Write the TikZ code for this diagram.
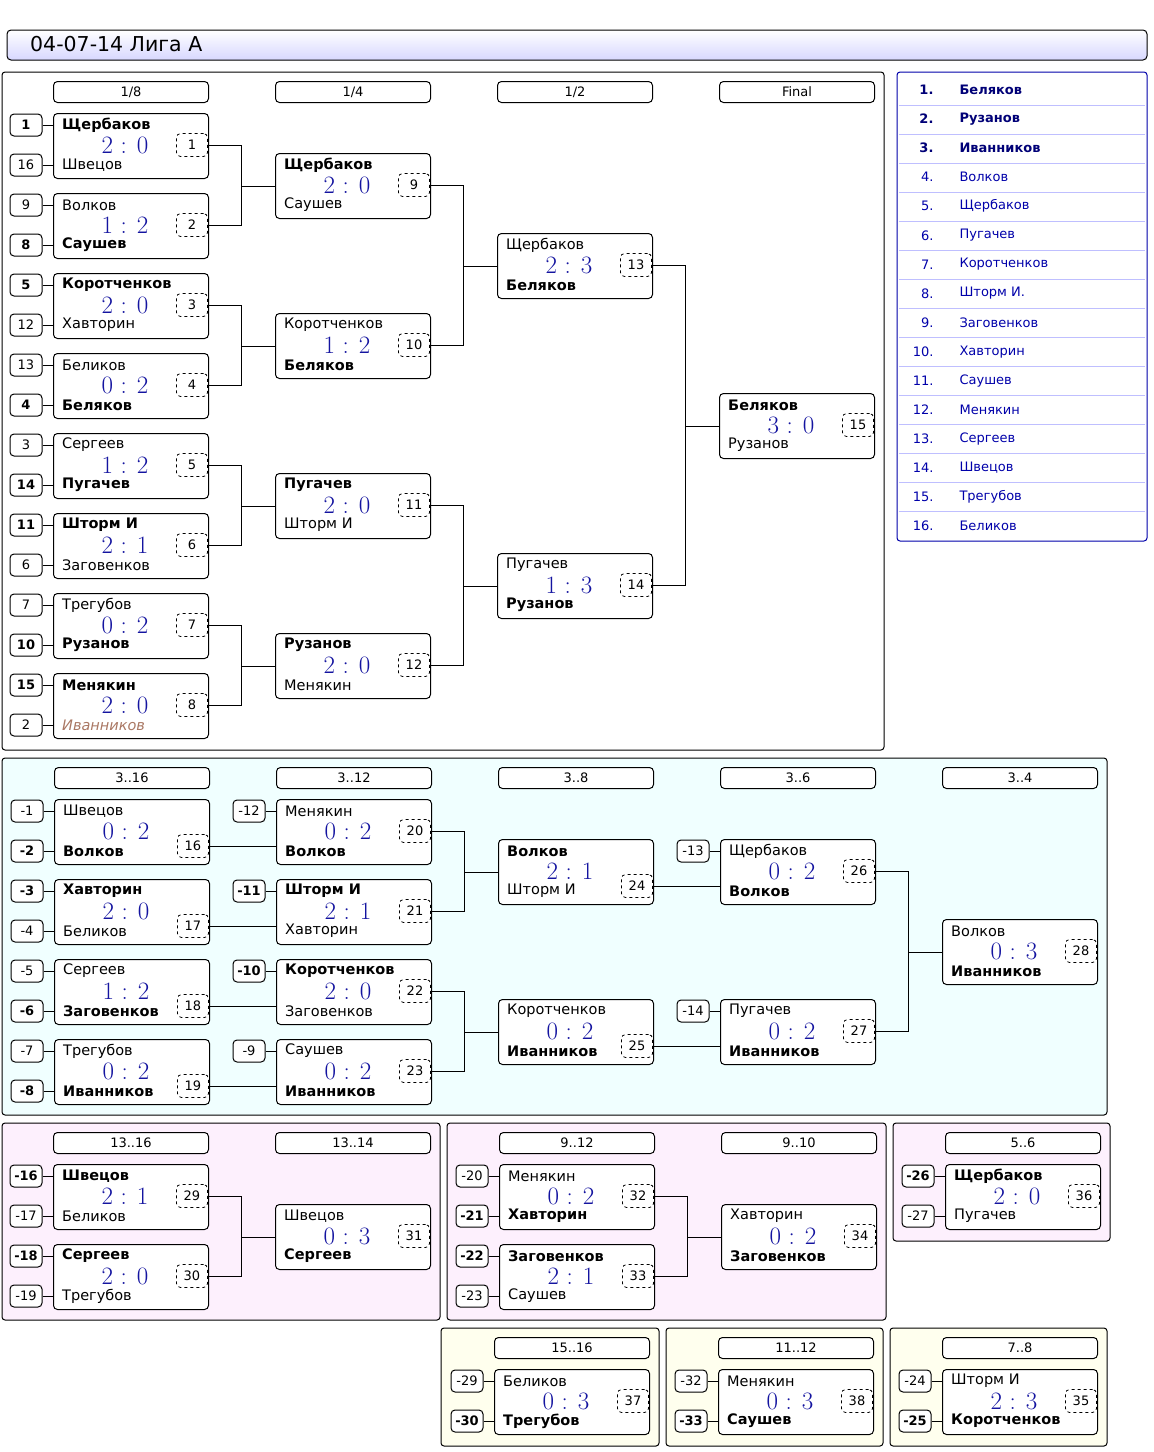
\documentclass[tikz,border=0pt]{standalone}
\usepackage{fontspec}
\setmainfont{DejaVu Sans}
\newfontfamily\scorefont{Latin Modern Roman}
\usetikzlibrary{positioning,calc}
\definecolor{scoreblue}{RGB}{20,20,160}
\definecolor{tabblue}{RGB}{0,0,170}
\definecolor{losercyan}{RGB}{240,255,255}
\definecolor{lowpink}{RGB}{253,240,253}
\definecolor{lowyellow}{RGB}{255,255,238}
\definecolor{lavender}{RGB}{215,215,255}
\definecolor{absent}{RGB}{170,120,100}
\newcommand\names{\fontsize{14.5}{16}\selectfont}
\newcommand\labels{\fontsize{13}{15}\selectfont}
\tikzset{
  game/.style={draw,line width=1pt,rounded corners=4pt,fill=white,minimum width=155pt,
    minimum height=65pt,anchor=north west,inner sep=0pt},
  player/.style={anchor=west,inner sep=0pt,font=\names},
  score/.style={inner sep=0pt,text=scoreblue,font=\scorefont\fontsize{25}{25}\selectfont},
  num/.style={draw,dashed,line width=0.8pt,rounded corners=4pt,minimum width=31pt,
    minimum height=23pt,inner sep=0pt,font=\labels,fill=white},
  seed/.style={draw,line width=1pt,rounded corners=4pt,minimum width=32pt,
    minimum height=22pt,inner sep=0pt,font=\labels,fill=white},
  head/.style={draw,line width=1pt,rounded corners=4pt,minimum width=155pt,
    minimum height=21pt,anchor=north west,inner sep=0pt,font=\labels,fill=white},
  link/.style={line width=1pt},
  panel/.style={draw,line width=1pt,rounded corners=3pt}
}
% #1 id, #2 x, #3 top, #4 upper player, #5 score, #6 lower player, #7 number, #8 dy of number
\newcommand\game[8]{%
  \node[game] (m#1) at (#2,#3) {};
  \node[player] (u#1) at (#2+9,#3+12) {#4};
  \node[score] (r#1) at (#2+72,#3+32) {#5};
  \node[player] (l#1) at (#2+9,#3+52) {#6};
  \node[num] (n#1) at (#2+139,#3+#8) {#7};
}
% #1 seed name, #2 match id, #3 dy, #4 text
\newcommand\seed[4]{%
  \node[seed] (#1) at ($(m#2.north west)+(-27,#3)$) {#4};
  \draw[link] (#1.east) -- (#1.east -| m#2.west);
}
% two winners into one match
\newcommand\join[3]{%
  \draw[link] (n#1.east) -- ++(34,0) |- (m#3.west);
  \draw[link] (n#2.east) -- ++(34,0) |- (m#3.west);
}
\newcommand\pass[2]{\draw[link] (n#1.east) -- (n#1.east -| m#2.west);}
\begin{document}
\begin{tikzpicture}[x=1pt,y=-1pt]
\useasboundingbox (0,0) rectangle (1154,1452);

% title
\shade[top color=white,bottom color=lavender,rounded corners=4pt] (7,30) rectangle (1147,60);
\draw[line width=1pt,rounded corners=4pt] (7,30) rectangle (1147,60);
\node[anchor=west,inner sep=0pt,font=\fontsize{20.5}{22}\selectfont] (title) at (30,44) {04-07-14 Лига A};

% panels
\draw[panel,fill=white] (2,72) rectangle (884,750);
\draw[panel,fill=losercyan] (2,758) rectangle (1107,1115);
\draw[panel,fill=lowpink] (2,1123) rectangle (440,1320);
\draw[panel,fill=lowpink] (447,1123) rectangle (886,1320);
\draw[panel,fill=lowpink] (893,1123) rectangle (1110,1241);
\draw[panel,fill=lowyellow] (441,1328) rectangle (659,1446);
\draw[panel,fill=lowyellow] (666,1328) rectangle (883,1446);
\draw[panel,fill=lowyellow] (890,1328) rectangle (1107,1446);

% standings
\draw[panel,draw=tabblue,fill=white] (897,72) rectangle (1147,541);
\foreach \k/\who [count=\i] in {1/Беляков,2/Рузанов,3/Иванников,4/Волков,5/Щербаков,
  6/Пугачев,7/Коротченков,8/Шторм И.,9/Заговенков,10/Хавторин,11/Саушев,12/Менякин,
  13/Сергеев,14/Швецов,15/Трегубов,16/Беликов} {
  \ifnum\i<4
    \node[anchor=east,font=\labels\bfseries,text=tabblue!70!black] (p\i) at (937,{90+29.07*(\i-1)}) {\k.};
    \node[anchor=west,font=\labels\bfseries,text=tabblue!70!black] (w\i) at (956,{90+29.07*(\i-1)}) {\who};
  \else
    \node[anchor=east,font=\labels,text=tabblue] (p\i) at (937,{90+29.07*(\i-1)}) {\k.};
    \node[anchor=west,font=\labels,text=tabblue] (w\i) at (956,{90+29.07*(\i-1)}) {\who};
  \fi
  \ifnum\i<16
    \draw[blue!25,line width=1pt] (899,{105+29.07*(\i-1)}) -- (1145,{105+29.07*(\i-1)});
  \fi
}

% headers
\node[head] (h1) at (53,81) {1/8};
\node[head] (h2) at (275,81) {1/4};
\node[head] (h3) at (497,81) {1/2};
\node[head] (h4) at (719,81) {Final};
\node[head] (h5) at (54,767) {3..16};
\node[head] (h6) at (276,767) {3..12};
\node[head] (h7) at (498,767) {3..8};
\node[head] (h8) at (720,767) {3..6};
\node[head] (h9) at (942,767) {3..4};
\node[head] (h10) at (53,1132) {13..16};
\node[head] (h11) at (275,1132) {13..14};
\node[head] (h12) at (499,1132) {9..12};
\node[head] (h13) at (721,1132) {9..10};
\node[head] (h14) at (945,1132) {5..6};
\node[head] (h15) at (494,1337) {15..16};
\node[head] (h16) at (718,1337) {11..12};
\node[head] (h17) at (942,1337) {7..8};

% main bracket
\game{1}{53}{113}{\textbf{Щербаков}}{2 : 0}{Швецов}{1}{32}
\game{2}{53}{193}{Волков}{1 : 2}{\textbf{Саушев}}{2}{32}
\game{3}{53}{273}{\textbf{Коротченков}}{2 : 0}{Хавторин}{3}{32}
\game{4}{53}{353}{Беликов}{0 : 2}{\textbf{Беляков}}{4}{32}
\game{5}{53}{433}{Сергеев}{1 : 2}{\textbf{Пугачев}}{5}{32}
\game{6}{53}{513}{\textbf{Шторм И}}{2 : 1}{Заговенков}{6}{32}
\game{7}{53}{593}{Трегубов}{0 : 2}{\textbf{Рузанов}}{7}{32}
\game{8}{53}{673}{\textbf{Менякин}}{2 : 0}{\textcolor{absent}{\itshape Иванников}}{8}{32}
\seed{a1}{1}{12}{\textbf{1}}   \seed{a16}{1}{52}{16}
\seed{a9}{2}{12}{9}            \seed{a8}{2}{52}{\textbf{8}}
\seed{a5}{3}{12}{\textbf{5}}   \seed{a12}{3}{52}{12}
\seed{a13}{4}{12}{13}          \seed{a4}{4}{52}{\textbf{4}}
\seed{a3}{5}{12}{3}            \seed{a14}{5}{52}{\textbf{14}}
\seed{a11}{6}{12}{\textbf{11}} \seed{a6}{6}{52}{6}
\seed{a7}{7}{12}{7}            \seed{a10}{7}{52}{\textbf{10}}
\seed{a15}{8}{12}{\textbf{15}} \seed{a2}{8}{52}{2}
\game{9}{275}{153}{\textbf{Щербаков}}{2 : 0}{Саушев}{9}{32}
\game{10}{275}{313}{Коротченков}{1 : 2}{\textbf{Беляков}}{10}{32}
\game{11}{275}{473}{\textbf{Пугачев}}{2 : 0}{Шторм И}{11}{32}
\game{12}{275}{633}{\textbf{Рузанов}}{2 : 0}{Менякин}{12}{32}
\game{13}{497}{233}{Щербаков}{2 : 3}{\textbf{Беляков}}{13}{32}
\game{14}{497}{553}{Пугачев}{1 : 3}{\textbf{Рузанов}}{14}{32}
\game{15}{719}{393}{\textbf{Беляков}}{3 : 0}{Рузанов}{15}{32}
\join{1}{2}{9} \join{3}{4}{10} \join{5}{6}{11} \join{7}{8}{12}
\join{9}{10}{13} \join{11}{12}{14} \join{13}{14}{15}

% places 3..16
\game{16}{54}{799}{Швецов}{0 : 2}{\textbf{Волков}}{16}{47}
\game{17}{54}{879}{\textbf{Хавторин}}{2 : 0}{Беликов}{17}{47}
\game{18}{54}{959}{Сергеев}{1 : 2}{\textbf{Заговенков}}{18}{47}
\game{19}{54}{1039}{Трегубов}{0 : 2}{\textbf{Иванников}}{19}{47}
\seed{b1}{16}{12}{-1}           \seed{b2}{16}{52}{\textbf{-2}}
\seed{b3}{17}{12}{\textbf{-3}}  \seed{b4}{17}{52}{-4}
\seed{b5}{18}{12}{-5}           \seed{b6}{18}{52}{\textbf{-6}}
\seed{b7}{19}{12}{-7}           \seed{b8}{19}{52}{\textbf{-8}}
\game{20}{276}{799}{Менякин}{0 : 2}{\textbf{Волков}}{20}{32}
\game{21}{276}{879}{\textbf{Шторм И}}{2 : 1}{Хавторин}{21}{32}
\game{22}{276}{959}{\textbf{Коротченков}}{2 : 0}{Заговенков}{22}{32}
\game{23}{276}{1039}{Саушев}{0 : 2}{\textbf{Иванников}}{23}{32}
\seed{b12}{20}{12}{-12}  \seed{b11}{21}{12}{\textbf{-11}}
\seed{b10}{22}{12}{\textbf{-10}}  \seed{b9}{23}{12}{-9}
\game{24}{498}{839}{\textbf{Волков}}{2 : 1}{Шторм И}{24}{47}
\game{25}{498}{999}{Коротченков}{0 : 2}{\textbf{Иванников}}{25}{47}
\game{26}{720}{839}{Щербаков}{0 : 2}{\textbf{Волков}}{26}{32}
\game{27}{720}{999}{Пугачев}{0 : 2}{\textbf{Иванников}}{27}{32}
\seed{b13}{26}{12}{-13}  \seed{b14}{27}{12}{-14}
\game{28}{942}{919}{Волков}{0 : 3}{\textbf{Иванников}}{28}{32}
\pass{16}{20} \pass{17}{21} \pass{18}{22} \pass{19}{23}
\join{20}{21}{24} \join{22}{23}{25}
\pass{24}{26} \pass{25}{27}
\join{26}{27}{28}

% places 13..16
\game{29}{53}{1164}{\textbf{Швецов}}{2 : 1}{Беликов}{29}{32}
\game{30}{53}{1244}{\textbf{Сергеев}}{2 : 0}{Трегубов}{30}{32}
\seed{c16}{29}{12}{\textbf{-16}}  \seed{c17}{29}{52}{-17}
\seed{c18}{30}{12}{\textbf{-18}}  \seed{c19}{30}{52}{-19}
\game{31}{275}{1204}{Швецов}{0 : 3}{\textbf{Сергеев}}{31}{32}
\join{29}{30}{31}

% places 9..12
\game{32}{499}{1164}{Менякин}{0 : 2}{\textbf{Хавторин}}{32}{32}
\game{33}{499}{1244}{\textbf{Заговенков}}{2 : 1}{Саушев}{33}{32}
\seed{c20}{32}{12}{-20}           \seed{c21}{32}{52}{\textbf{-21}}
\seed{c22}{33}{12}{\textbf{-22}}  \seed{c23}{33}{52}{-23}
\game{34}{721}{1204}{Хавторин}{0 : 2}{\textbf{Заговенков}}{34}{32}
\join{32}{33}{34}

% places 5..6
\game{36}{945}{1164}{\textbf{Щербаков}}{2 : 0}{Пугачев}{36}{32}
\seed{c26}{36}{12}{\textbf{-26}}  \seed{c27}{36}{52}{-27}

% places 15..16, 11..12, 7..8
\game{37}{494}{1369}{Беликов}{0 : 3}{\textbf{Трегубов}}{37}{32}
\seed{d29}{37}{12}{-29}  \seed{d30}{37}{52}{\textbf{-30}}
\game{38}{718}{1369}{Менякин}{0 : 3}{\textbf{Саушев}}{38}{32}
\seed{d32}{38}{12}{-32}  \seed{d33}{38}{52}{\textbf{-33}}
\game{35}{942}{1369}{Шторм И}{2 : 3}{\textbf{Коротченков}}{35}{32}
\seed{d24}{35}{12}{-24}  \seed{d25}{35}{52}{\textbf{-25}}
\end{tikzpicture}
\end{document}
